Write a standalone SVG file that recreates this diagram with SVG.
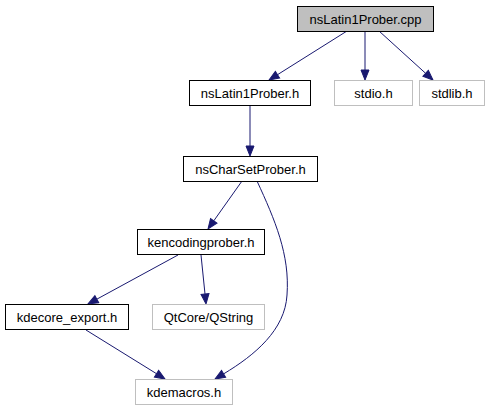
<svg xmlns="http://www.w3.org/2000/svg" width="489" height="411" viewBox="0 0 489 411">
<style>
.n rect{fill:#ffffff;stroke:#000000;stroke-width:1}
.g rect{fill:#ffffff;stroke:#bfbfbf;stroke-width:1}
.root rect{fill:#bfbfbf;stroke:#000000;stroke-width:1}
text{font-family:"Liberation Sans",Arial,sans-serif;font-size:13px;fill:#000000;text-anchor:middle}
.e path{fill:none;stroke:#191970;stroke-width:1;marker-end:url(#arr)}
</style>
<defs>
<marker id="arr" viewBox="0 -5 11 10" refX="0" refY="0" markerUnits="userSpaceOnUse" markerWidth="11" markerHeight="10" orient="auto" overflow="visible">
<path d="M0,-4 L10,0 L0,4 Z" fill="#191970" stroke="#191970" stroke-width="1"/>
</marker>
</defs>
<g id="edges" class="e">
<path d="M347,31 L277.5,74.7"/>
<path d="M365,31 L365,70"/>
<path d="M379,31 L425.6,73.3"/>
<path d="M250,106 L250,146"/>
<path d="M242,181 L213.8,220.8"/>
<path d="M257,181 C275,220 290,255 287,295 C285,330 255,355 223.6,373.9"/>
<path d="M178,255 L96.8,299.2"/>
<path d="M201,255 L205,294"/>
<path d="M86,330 L156.5,373.7"/>
</g>
<g id="node-cpp" class="root"><rect x="297.5" y="6.5" width="136" height="25"/><text x="365.5" y="23.5">nsLatin1Prober.cpp</text></g>
<g id="node-latin1h" class="n"><rect x="189.5" y="80.5" width="121" height="25"/><text x="250" y="97.5">nsLatin1Prober.h</text></g>
<g id="node-stdio" class="g"><rect x="334.5" y="80.5" width="78" height="25"/><text x="373.5" y="97.5">stdio.h</text></g>
<g id="node-stdlib" class="g"><rect x="419.5" y="80.5" width="65" height="25"/><text x="452" y="97.5">stdlib.h</text></g>
<g id="node-charset" class="n"><rect x="183.5" y="156.5" width="134" height="25"/><text x="250.5" y="173.5">nsCharSetProber.h</text></g>
<g id="node-kencoding" class="n"><rect x="137.5" y="229.5" width="127" height="25"/><text x="201" y="246.5">kencodingprober.h</text></g>
<g id="node-kdecore" class="n"><rect x="5.5" y="304.5" width="123" height="25"/><text x="67" y="321.5">kdecore_export.h</text></g>
<g id="node-qstring" class="g"><rect x="152.5" y="304.5" width="112" height="25"/><text x="208.5" y="321.5">QtCore/QString</text></g>
<g id="node-kdemacros" class="g"><rect x="135.5" y="379.5" width="97" height="25"/><text x="184" y="396.5">kdemacros.h</text></g>
</svg>
